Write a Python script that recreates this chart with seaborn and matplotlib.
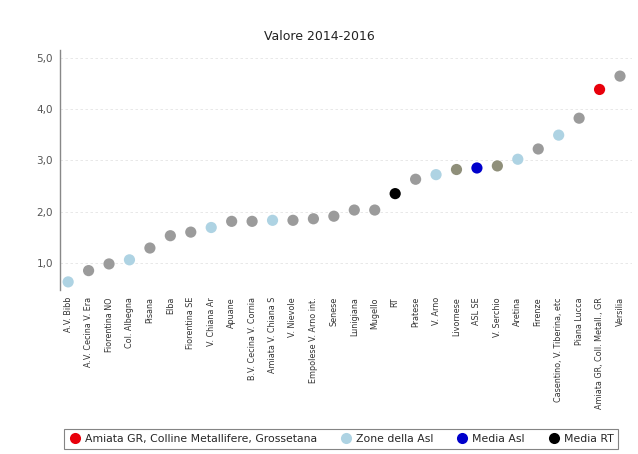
import pandas as pd
import numpy as np
import seaborn as sns
import matplotlib.pyplot as plt
from matplotlib.lines import Line2D

# dati
zone = ["A.V. Bibb", "A.V. Cecina V. Era", "Fiorentina NO", "Col. Albegna", "Pisana",
        "Elba", "Fiorentina SE", "V. Chiana Ar", "Apuane", "B.V. Cecina V. Cornia",
        "Amiata V. Chiana S", "V. Nievole", "Empolese V. Arno int.", "Senese", "Lunigiana",
        "Mugello", "RT", "Pratese", "V. Arno", "Livornese",
        "ASL SE", "V. Serchio", "Aretina", "Firenze", "Casentino, V. Tiberina, etc",
        "Piana Lucca", "Amiata GR, Coll. Metall., GR", "Versilia"]
valori = [0.63, 0.85, 0.98, 1.06, 1.29, 1.53, 1.60, 1.69, 1.81, 1.81,
          1.83, 1.83, 1.86, 1.91, 2.03, 2.03, 2.35, 2.63, 2.72, 2.82,
          2.85, 2.89, 3.02, 3.22, 3.49, 3.82, 4.38, 4.64]
gruppi = ["zona", "altro", "altro", "zona", "altro", "altro", "altro", "zona", "altro", "altro",
          "zona", "altro", "altro", "altro", "altro", "altro", "rt", "altro", "zona", "oliva",
          "asl", "oliva", "zona", "altro", "zona", "altro", "sel", "altro"]

tavolozza = {"altro": "#9b9b9b", "zona": "#aed3e3", "oliva": "#8f8f7a",
             "asl": "#0000cc", "rt": "#000000", "sel": "#e8000b"}

df = pd.DataFrame({"zona": zone, "valore": valori, "gruppo": gruppi})

sns.set_style("white")
plt.rcParams['font.family'] = ['DejaVu Sans']

fig = plt.figure(figsize=(6.38, 4.54), dpi=100)
ax = fig.add_axes([0.094, 0.361, 0.897, 0.529])

sns.scatterplot(data=df, x="zona", y="valore", hue="gruppo", palette=tavolozza,
                s=65, linewidth=0, legend=False, ax=ax, zorder=3)

ax.set_xlim(-0.4, 27.6)
ax.set_ylim(0.47, 5.15)
ax.set_yticks([1, 2, 3, 4, 5])
ax.set_yticklabels(["1,0", "2,0", "3,0", "4,0", "5,0"], fontsize=7.5, color="#555555")
ax.tick_params(axis="y", length=3, width=0.8, color="#888888", pad=2)
ax.tick_params(axis="x", length=2, width=0.6, color="#aaaaaa", pad=3)
plt.setp(ax.get_xticklabels(), rotation=90, fontsize=5.8, color="#333333")
ax.set_xlabel("")
ax.set_ylabel("")
ax.yaxis.grid(True, color="#e4e4e4", linestyle=(0, (3, 3)), linewidth=0.6)
for s in ["top", "right", "bottom"]:
    ax.spines[s].set_visible(False)
ax.spines["left"].set_color("#888888")
ax.spines["left"].set_linewidth(1.0)

fig.suptitle("Valore 2014-2016", y=0.935, fontsize=9, color="#222222")

handles = [Line2D([], [], marker="o", linestyle="", markersize=8, markeredgewidth=0,
                  color=tavolozza[g]) for g in ["sel", "zona", "asl", "rt"]]
etichette = ["Amiata GR, Colline Metallifere, Grossetana", "Zone della Asl",
             "Media Asl", "Media RT"]
leg = fig.legend(handles, etichette, loc="center", bbox_to_anchor=(0.535, 0.033),
                 ncol=4, fontsize=7.8, frameon=True, fancybox=False, handletextpad=0.4,
                 columnspacing=2.2, borderpad=0.45, handlelength=1.0)
leg.get_frame().set_edgecolor("#666666")
leg.get_frame().set_linewidth(0.8)

plt.savefig("out.png", dpi=100)
